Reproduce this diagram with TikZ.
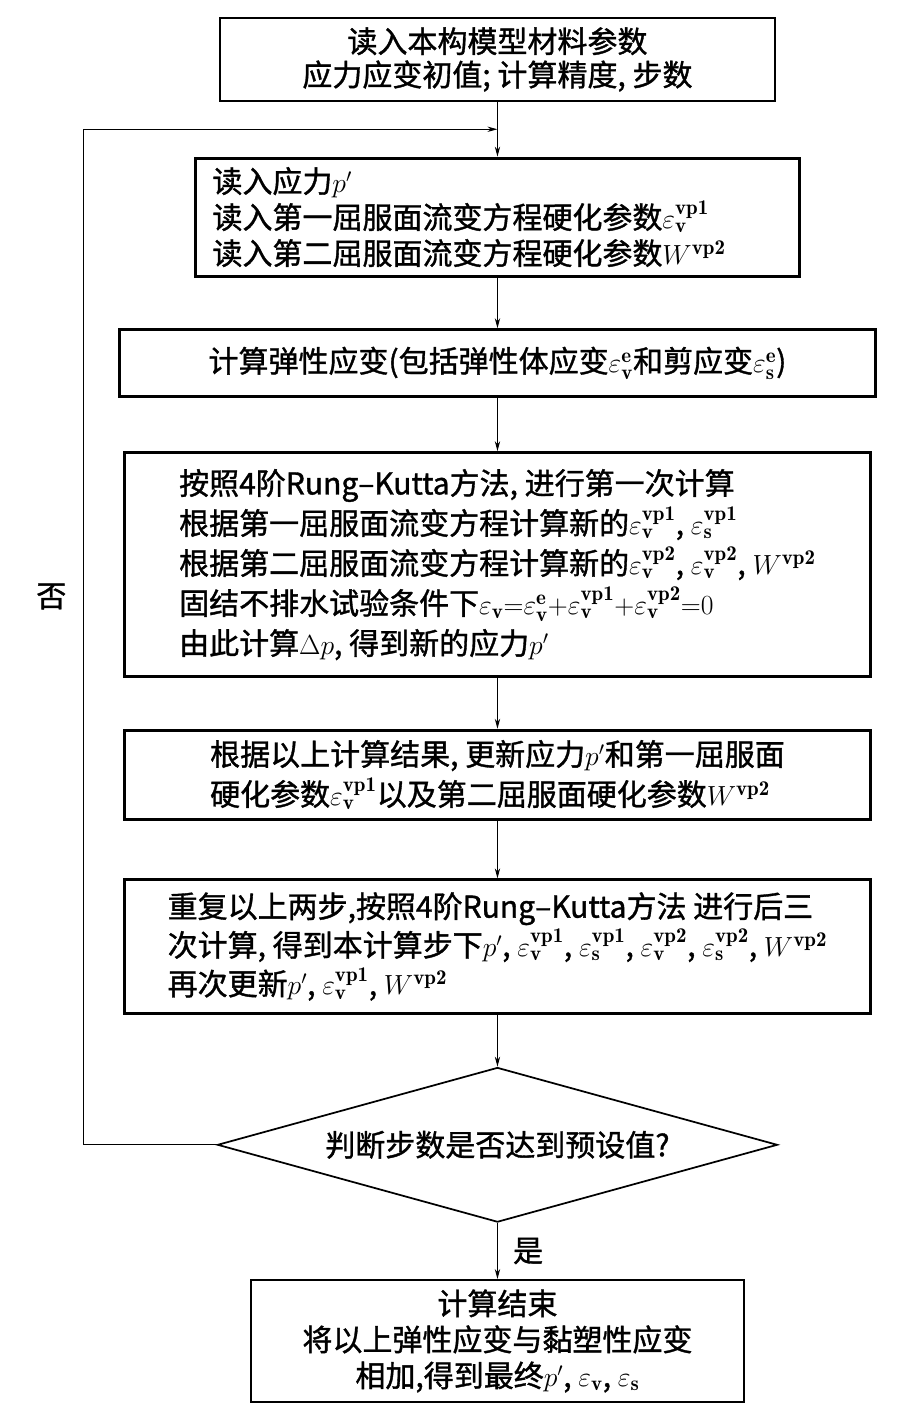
\documentclass[tikz,border=0pt]{standalone}
\usepackage{amsmath}
\usepackage{fontspec}
\newfontfamily\cjkfont{Noto Sans CJK SC}[FakeBold=1.2]
\usepackage{tikz}
\usetikzlibrary{positioning}
\usetikzlibrary{calc}
\usetikzlibrary{shapes.geometric}
\usetikzlibrary{arrows.meta}
\newcommand{\epsv}[1]{\varepsilon_{\mathbf{v}}^{\mathbf{#1}}}
\newcommand{\epss}[1]{\varepsilon_{\mathbf{s}}^{\mathbf{#1}}}
\newcommand{\Wvp}{W^{\mathbf{vp2}}}
\tikzset{
    flow chart/.style={
            node distance=40pt,
            rowskip/.style={font=\cjkfont\fontsize{22.5}{##1}\selectfont},
            stepbox/.style={draw, line width=2.2pt, align=left, inner sep=0pt, rowskip=30pt},
            decision/.style={draw, diamond, aspect=3.6, line width=1.3pt, inner sep=0pt, rowskip=30pt},
            tag/.style={rowskip=30pt},
            arrow/.style={-{Stealth[length=7.5pt,width=4pt]}, line width=0.75pt}
        }
    }
\begin{document}
\begin{tikzpicture}[flow chart]
    \useasboundingbox (0,0) rectangle (672.75pt,-1070.25pt);
    \node (read) [stepbox, align=center, line width=1.7pt, rowskip=25pt,
        minimum width=416pt, minimum height=62pt] at (373.1pt,-44.6pt)
        {读入本构模型材料参数\\应力应变初值; 计算精度, 步数};
    \node (stress) [stepbox, below=41pt of read, text width=427.5pt, inner xsep=12.75pt,
        rowskip=27pt, minimum height=88.5pt]
        {读入应力$p'$\\读入第一屈服面流变方程硬化参数$\epsv{vp1}$\\读入第二屈服面流变方程硬化参数$\Wvp$};
    \node (elastic) [stepbox, below=38pt of stress, minimum width=567pt, minimum height=50pt]
        {计算弹性应变(包括弹性体应变$\varepsilon_{\mathbf{v}}^{\mathbf{e}}$和剪应变$\varepsilon_{\mathbf{s}}^{\mathbf{e}}$)};
    \node (rk1) [stepbox, below=of elastic, minimum width=559.5pt, minimum height=168pt]
        {按照4阶Rung–Kutta方法, 进行第一次计算\\
         根据第一屈服面流变方程计算新的$\epsv{vp1}$, $\epss{vp1}$\\
         根据第二屈服面流变方程计算新的$\epsv{vp2}$, $\epsv{vp2}$, $\Wvp$\\
         固结不排水试验条件下$\varepsilon_{\mathbf{v}}{=}\varepsilon_{\mathbf{v}}^{\mathbf{e}}{+}\epsv{vp1}{+}\epsv{vp2}{=}0$\\
         由此计算$\Delta p$, 得到新的应力$p'$};
    \node (update) [stepbox, below=38pt of rk1, minimum width=559.5pt, minimum height=67pt]
        {根据以上计算结果, 更新应力$p'$和第一屈服面\\硬化参数$\epsv{vp1}$以及第二屈服面硬化参数$\Wvp$};
    \node (rk3) [stepbox, below=43pt of update, minimum width=559.5pt, minimum height=100pt, rowskip=29pt]
        {重复以上两步,按照4阶Rung–Kutta方法 进行后三\\
         次计算, 得到本计算步下$p'$, $\epsv{vp1}$, $\epss{vp1}$, $\epsv{vp2}$, $\epss{vp2}$, $\Wvp$\\
         再次更新$p'$, $\epsv{vp1}$, $\Wvp$};
    \node (check) [decision, below=39pt of rk3, minimum width=420pt, minimum height=116pt]
        {判断步数是否达到预设值?};
    \node (done) [stepbox, align=center, line width=1.5pt, rowskip=27pt, below=42pt of check,
        minimum width=370pt, minimum height=91.5pt]
        {计算结束\\将以上弹性应变与黏塑性应变\\相加,得到最终$p'$, $\varepsilon_{\mathbf{v}}$, $\varepsilon_{\mathbf{s}}$};
    \coordinate (join) at ($(read.south)!0.5!(stress.north)$);
    \draw [arrow] (read) -- (stress);
    \draw [arrow] (stress) -- (elastic);
    \draw [arrow] (elastic) -- (rk1);
    \draw [arrow] (rk1) -- (update);
    \draw [arrow] (update) -- (rk3);
    \draw [arrow] (rk3) -- (check);
    \draw [arrow] (check) -- (done) node [tag, midway, right=8pt] {是};
    \draw [arrow] (check.west) -- ++(-100pt,0) |- (join) node [tag, pos=0.27, left=9pt] {否};
\end{tikzpicture}
\end{document}
